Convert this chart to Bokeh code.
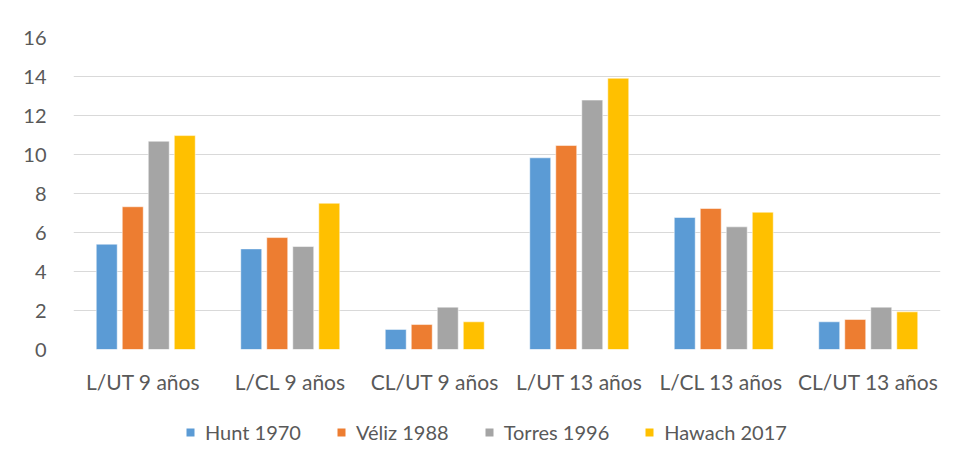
from bokeh.plotting import figure
from bokeh.layouts import column
from bokeh.models import FactorRange, ColumnDataSource, Legend, LegendItem, SingleIntervalTicker, Range1d
from bokeh.transform import dodge
from bokeh.embed import file_html
from bokeh.resources import INLINE

categories = ["L/UT  9 años", "L/CL 9 años", "CL/UT 9 años", "L/UT 13 años", "L/CL  13 años", "CL/UT 13 años"]
series_names = ["Hunt 1970", "Véliz 1988", "Torres 1996", "Hawach 2017"]
hunt_1970 = [5.40, 5.16, 1.03, 9.83, 6.77, 1.42]
veliz_1988 = [7.32, 5.74, 1.28, 10.46, 7.23, 1.54]
torres_1996 = [10.68, 5.28, 2.17, 12.79, 6.29, 2.17]
hawach_2017 = [10.97, 7.50, 1.42, 13.91, 7.04, 1.93]
colors = ["#5B9BD5", "#ED7D31", "#A5A5A5", "#FFC000"]

source = ColumnDataSource(dict(cat=categories, s0=hunt_1970, s1=veliz_1988, s2=torres_1996, s3=hawach_2017))

FONT = "Lato"
p = figure(x_range=FactorRange(factors=categories, range_padding=0), y_range=(0, 16),
           width=955, height=400, output_backend="svg", toolbar_location=None,
           min_border_left=73, min_border_right=15, min_border_top=37, min_border_bottom=51)
p.outline_line_color = None
p.background_fill_color = "white"
p.border_fill_color = "white"

offsets = [-0.27, -0.09, 0.09, 0.27]
for i, col in enumerate(colors):
    p.vbar(x=dodge("cat", offsets[i], range=p.x_range), top=f"s{i}", width=0.145, source=source,
           fill_color=col, line_color="white", line_width=0.5)

p.yaxis.ticker = SingleIntervalTicker(interval=2)
p.ygrid.grid_line_color = "#d9d9d9"
p.ygrid.grid_line_width = 1.2
p.xgrid.grid_line_color = None
for ax in (p.xaxis, p.yaxis):
    ax.axis_line_color = None
    ax.major_tick_line_color = None
    ax.minor_tick_line_color = None
    ax.major_tick_out = 0
    ax.major_label_text_font = FONT
    ax.major_label_text_font_size = "20px"
    ax.major_label_text_color = "#595959"
p.xaxis.major_label_text_font_size = "21px"
p.yaxis.major_label_standoff = 23
p.xaxis.major_label_standoff = 19

# legend strip (separate figure so the legend is not clipped)
p2 = figure(width=955, height=60, output_backend="svg", toolbar_location=None, min_border=0,
            x_range=Range1d(0, 955), y_range=Range1d(0, 60),
            x_axis_location=None, y_axis_location=None)
p2.grid.grid_line_color = None
p2.outline_line_color = None
p2.background_fill_color = "white"
p2.border_fill_color = "white"
dummy = ColumnDataSource(dict(x=[-100], top=[0]))
leg_renderers = [p2.vbar(x="x", top="top", width=1, source=dummy, fill_color=c, line_color=None) for c in colors]
legend = Legend(items=[LegendItem(label=n, renderers=[r]) for n, r in zip(series_names, leg_renderers)],
                orientation="horizontal", location=(112, 16), spacing=35,
                glyph_width=10, glyph_height=10, label_standoff=10,
                label_text_font=FONT, label_text_font_size="20px", label_text_color="#595959",
                border_line_color=None, background_fill_alpha=0, margin=0, padding=0)
p2.add_layout(legend, "center")

layout = column(p, p2, spacing=0)
open("out.html", "w").write(file_html(layout, INLINE))
